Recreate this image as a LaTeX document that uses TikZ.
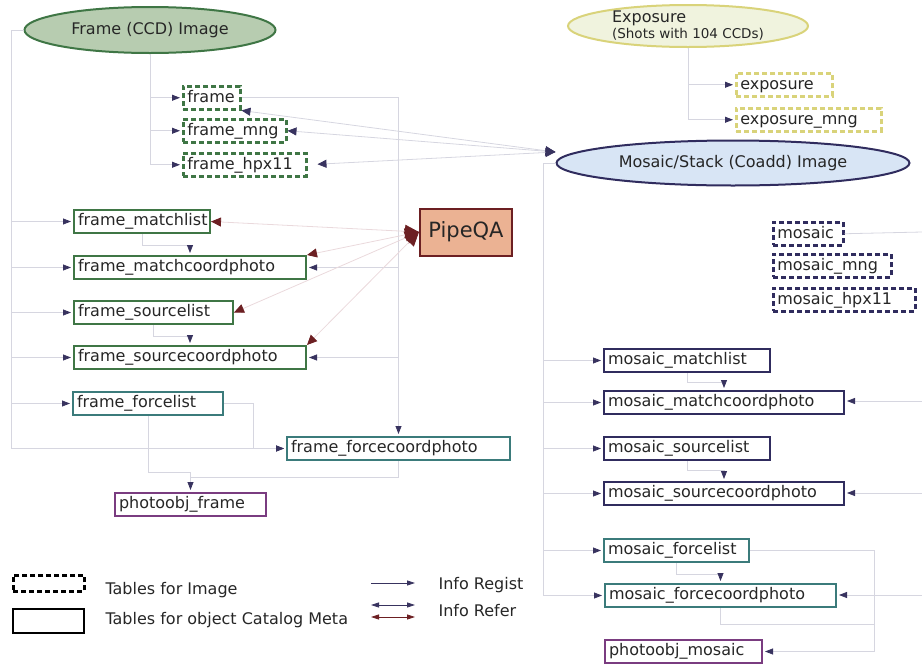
\documentclass[tikz,border=0pt]{standalone}
\usepackage{fontspec}
\setmainfont{DejaVu Sans}
\usepackage{tikz}
\usetikzlibrary{positioning, arrows.meta, shapes.geometric, calc}

\definecolor{fgreen}{HTML}{3F7645}
\definecolor{fgreenfill}{HTML}{B7CCB0}
\definecolor{eyellow}{HTML}{D9D37A}
\definecolor{eyellowfill}{HTML}{F0F3DE}
\definecolor{mnavy}{HTML}{302C5E}
\definecolor{mnavyfill}{HTML}{D8E5F5}
\definecolor{fteal}{HTML}{3B7B7B}
\definecolor{opurple}{HTML}{7A3C80}
\definecolor{qared}{HTML}{6C1F22}
\definecolor{qafill}{HTML}{EBB293}
\definecolor{arrnavy}{HTML}{38335F}
\definecolor{wiregray}{HTML}{D6D6E0}
\definecolor{wirepink}{HTML}{EAD9DC}

\begin{document}
\begin{tikzpicture}[
        x = 1pt, y = -1pt,
        every node/.style = {font=\fontsize{16}{19}\selectfont, text=black!85},
        img/.style    = {draw, ellipse, line width=2pt, inner sep=0pt},
        tab/.style    = {draw, line width=2pt, anchor=north west, inner xsep=4pt, inner ysep=0pt, minimum height=23pt, text height=12pt, text depth=3.5pt},
        imgtab/.style = {tab, dash pattern=on 5pt off 3pt, line width=2.5pt},
        cattab/.style = {tab},
        link/.style   = {draw=wiregray, line width=0.8pt},
        reg/.style    = {link, -{Triangle[length=8pt, width=6pt, color=arrnavy]}, shorten >=2pt},
        ref/.style    = {link, {Triangle[length=9pt, width=8pt, color=arrnavy]}-{Triangle[length=10pt, width=9pt, color=arrnavy]}},
        qaref/.style  = {draw=wirepink, line width=0.8pt, {Triangle[length=10pt, width=9pt, color=qared]}-{Triangle[length=14pt, width=13pt, color=qared]}},
    ]
        \useasboundingbox (0,0) rectangle (922,667);

        \node[img, draw=fgreen, fill=fgreenfill, minimum width=251pt, minimum height=46pt] (frameimg) at (150,30) {Frame (CCD) Image};
        \node[img, draw=eyellow, fill=eyellowfill, minimum width=240pt, minimum height=42pt, align=left] (expo) at (688,26)
            {Exposure\\[-3pt]{\fontsize{13.5}{15}\selectfont(Shots with 104 CCDs)}};
        \node[img, draw=mnavy, fill=mnavyfill, minimum width=353pt, minimum height=45pt] (mosaicimg) at (733,163) {Mosaic/Stack (Coadd) Image};

        \node[draw=qared, fill=qafill, line width=2pt, minimum width=92pt, minimum height=47pt, font=\fontsize{21}{25}\selectfont] (pipeqa) at (466,232) {PipeQA};

        \node[imgtab, draw=fgreen, text width=49pt] (frame) at (182,85) {frame};
        \node[imgtab, draw=fgreen, text width=95pt] (fmng) at (182,118) {frame\_mng};
        \node[imgtab, draw=fgreen, text width=115pt] (fhpx) at (182,152) {frame\_hpx11};

        \node[cattab, draw=fgreen, text width=128pt] (fml) at (73,209) {frame\_matchlist};
        \node[cattab, draw=fgreen, text width=224pt] (fmcp) at (73,255) {frame\_matchcoordphoto};
        \node[cattab, draw=fgreen, text width=151pt] (fsl) at (73,300) {frame\_sourcelist};
        \node[cattab, draw=fgreen, text width=224pt] (fscp) at (73,345) {frame\_sourcecoordphoto};
        \node[cattab, draw=fteal, text width=142pt] (ffl) at (72,391) {frame\_forcelist};
        \node[cattab, draw=fteal, text width=215pt] (ffcp) at (286,436) {frame\_forcecoordphoto};
        \node[cattab, draw=opurple, text width=143pt] (pof) at (114,492) {photoobj\_frame};

        \node[imgtab, draw=eyellow, text width=88pt] (exposure) at (735,72) {exposure};
        \node[imgtab, draw=eyellow, text width=137pt] (emng) at (735,107) {exposure\_mng};

        \node[imgtab, draw=mnavy, text width=62pt] (mosaic) at (772,221) {mosaic};
        \node[imgtab, draw=mnavy, text width=110pt] (mmng) at (772,253) {mosaic\_mng};
        \node[imgtab, draw=mnavy, text width=134pt] (mhpx) at (772,287) {mosaic\_hpx11};

        \node[cattab, draw=mnavy, text width=158pt] (mml) at (603,348) {mosaic\_matchlist};
        \node[cattab, draw=mnavy, text width=232pt] (mmcp) at (603,390) {mosaic\_matchcoordphoto};
        \node[cattab, draw=mnavy, text width=158pt] (msl) at (603,436) {mosaic\_sourcelist};
        \node[cattab, draw=mnavy, text width=232pt] (mscp) at (603,481) {mosaic\_sourcecoordphoto};
        \node[cattab, draw=fteal, text width=137pt] (mfl) at (603,538) {mosaic\_forcelist};
        \node[cattab, draw=fteal, text width=223pt] (mfcp) at (604,583) {mosaic\_forcecoordphoto};
        \node[cattab, draw=opurple, text width=149pt] (pom) at (604,639) {photoobj\_mosaic};

        \coordinate (fbus) at (ffcp.north |- frame.east);
        \coordinate (mosin) at ([yshift=11pt]mosaicimg.west);
        \coordinate (redge1) at (922,232);
        \coordinate (redge2) at (922,401);
        \coordinate (redge3) at (922,493);
        \coordinate (redge4) at (922,595);
        \coordinate (mbus) at ($(mfl.east)+(124,0)$);

        \draw[reg] (frameimg.west) -- ++(-12,0) |- (fml.west);
        \draw[reg] (frameimg.west) -- ++(-12,0) |- (fmcp.west);
        \draw[reg] (frameimg.west) -- ++(-12,0) |- (fsl.west);
        \draw[reg] (frameimg.west) -- ++(-12,0) |- (fscp.west);
        \draw[reg] (frameimg.west) -- ++(-12,0) |- (ffl.west);
        \draw[reg] (frameimg.west) -- ++(-12,0) |- (ffcp.west);
        \draw[reg] (frameimg.south) |- (frame.west);
        \draw[reg] (frameimg.south) |- (fmng.west);
        \draw[reg] (frameimg.south) |- (fhpx.west);

        \draw[reg] (frame.east) -| (ffcp.north);
        \draw[reg] (fbus) |- (fmcp.east);
        \draw[reg] (fbus) |- (fscp.east);
        \draw[reg] (fml.south) -- ++(0,11) -| (fmcp.north);
        \draw[reg] (fsl.south) -- ++(0,11) -| (fscp.north);
        \draw[reg] (ffl.east) -- ++(29,0) |- (ffcp.west);
        \draw[reg] (ffl.south) -- ++(0,56) -| (pof.north);
        \draw[link] (ffcp.south) -- ++(0,16) -| ($(pof.north)+(0,-20)$);

        \draw[reg] (expo.south) |- (exposure.west);
        \draw[reg] (expo.south) |- (emng.west);

        \draw[reg] (mosaicimg.west) -- ++(-12,0) |- (mml.west);
        \draw[reg] (mosaicimg.west) -- ++(-12,0) |- (mmcp.west);
        \draw[reg] (mosaicimg.west) -- ++(-12,0) |- (msl.west);
        \draw[reg] (mosaicimg.west) -- ++(-12,0) |- (mscp.west);
        \draw[reg] (mosaicimg.west) -- ++(-12,0) |- (mfl.west);
        \draw[reg] (mosaicimg.west) -- ++(-12,0) |- (mfcp.west);
        \draw[reg] (mml.south) -- ++(0,9) -| (mmcp.north);
        \draw[reg] (msl.south) -- ++(0,9) -| (mscp.north);
        \draw[reg] (mfl.south) -- ++(0,11) -| (mfcp.north);
        \draw[link] (mosaic.east) -- (redge1);
        \draw[reg] (redge2) -- (redge2 -| mmcp.east);
        \draw[reg] (redge3) -- (redge3 -| mscp.east);
        \draw[reg] (redge4) -- (redge4 -| mfcp.east);
        \draw[reg] (mfl.east) -- (mbus) |- (pom.east);
        \draw[link] (mfcp.south) -- ++(0,16) -| (mbus);

        \draw[ref] (frame.south east) -- (mosin);
        \draw[ref] (fmng.east) -- (mosin);
        \draw[ref, shorten <=10pt] (fhpx.east) -- (mosin);

        \draw[qaref] (fml.east) -- (pipeqa.west);
        \draw[qaref] (fmcp.north east) -- (pipeqa.west);
        \draw[qaref] (fsl.east) -- (pipeqa.west);
        \draw[qaref] (fscp.north east) -- (pipeqa.west);

        \node[draw=black, dash pattern=on 5pt off 3pt, line width=2.5pt, minimum width=71pt, minimum height=16pt, anchor=north west] (legimg) at (12,574) {};
        \node[draw=black, line width=2pt, minimum width=71pt, minimum height=24pt, anchor=north west] (legcat) at (12,608) {};
        \node[anchor=west] (legimgtxt) at (102,590) {Tables for Image};
        \node[anchor=west] (legcattxt) at (102,620) {Tables for object Catalog Meta};

        \coordinate (lregA) at (371,583);
        \coordinate (lregB) at (415,583);
        \coordinate (lrefA) at (371,605);
        \coordinate (lrefB) at (415,605);
        \coordinate (lqaA) at (371,617);
        \coordinate (lqaB) at (415,617);
        \draw[draw=arrnavy, line width=0.8pt, -{Triangle[length=8pt, width=5pt]}] (lregA) -- (lregB);
        \draw[draw=arrnavy, line width=0.8pt, {Triangle[length=8pt, width=5pt]}-{Triangle[length=8pt, width=5pt]}] (lrefA) -- (lrefB);
        \draw[draw=qared, line width=0.8pt, {Triangle[length=8pt, width=5pt]}-{Triangle[length=8pt, width=5pt]}] (lqaA) -- (lqaB);
        \node[anchor=west] (regtxt) at (435,585) {Info Regist};
        \node[anchor=west] (reftxt) at (435,611) {Info Refer};
    \end{tikzpicture}
\end{document}
